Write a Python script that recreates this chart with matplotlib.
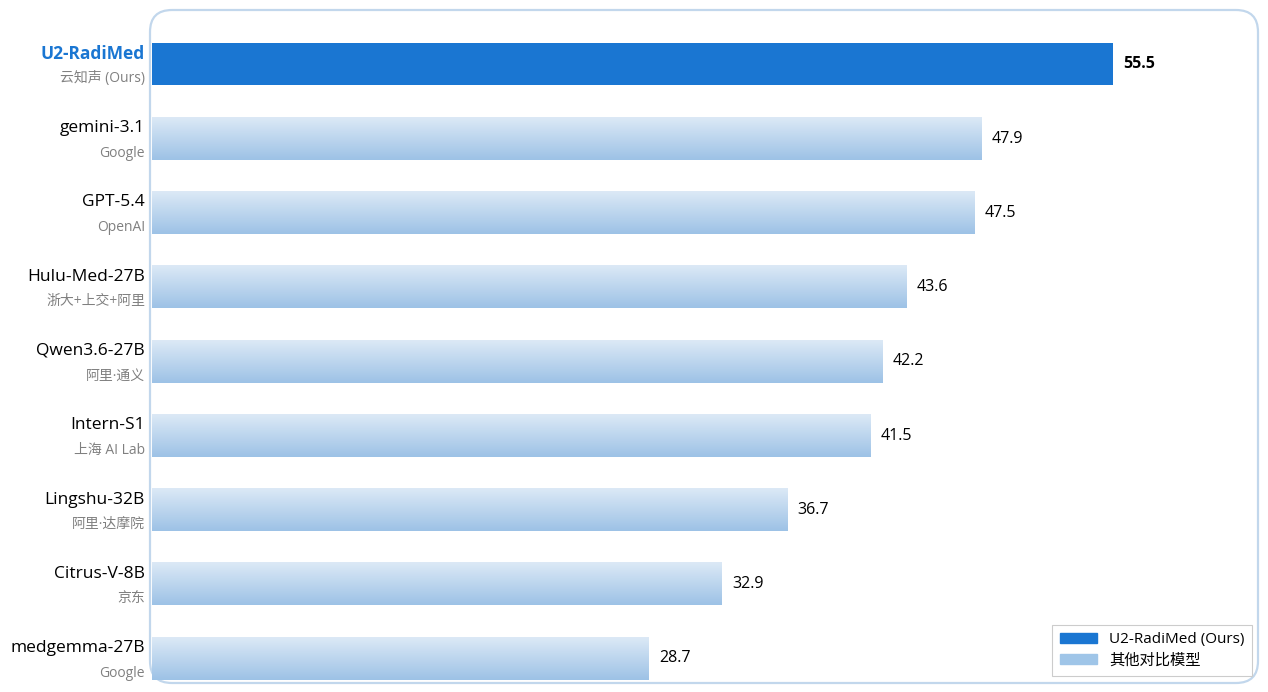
import numpy as np
import matplotlib.pyplot as plt
from matplotlib.patches import FancyBboxPatch, Patch

plt.rcParams['font.family'] = ['Open Sans', 'Noto Sans CJK SC', 'DejaVu Sans']

MODELS = ["U2-RadiMed", "gemini-3.1", "GPT-5.4", "Hulu-Med-27B", "Qwen3.6-27B",
          "Intern-S1", "Lingshu-32B", "Citrus-V-8B", "medgemma-27B"]
ORGS = ["云知声 (Ours)", "Google", "OpenAI", "浙大+上交+阿里", "阿里·通义",
        "上海 AI Lab", "阿里·达摩院", "京东", "Google"]
SCORES = [55.5, 47.9, 47.5, 43.6, 42.2, 41.5, 36.7, 32.9, 28.7]

OURS_COLOR = "#1a76d2"
TOP_COLOR = np.array([220, 233, 246]) / 255
BOT_COLOR = np.array([157, 194, 230]) / 255
FRAME_COLOR = "#c2d7ec"

W, H = 1268, 692
fig = plt.figure(figsize=(W / 100, H / 100), dpi=100)
ax = fig.add_axes([152 / W, 1 - 683 / H, (1258 - 152) / W, (683 - 10) / H])
ax.set_facecolor("none")
ax.set_zorder(1)

# rounded frame around the plot area
frame = FancyBboxPatch((1.50, 0.09), 11.08, 6.73,
                       boxstyle="round,pad=0,rounding_size=0.22",
                       transform=fig.dpi_scale_trans, facecolor="white",
                       edgecolor=FRAME_COLOR, linewidth=1.6, zorder=0)
fig.patches.append(frame)

y = np.arange(len(MODELS))
bars = ax.barh(y, SCORES, height=0.57, color="none", edgecolor="none")
bars[0].set_facecolor(OURS_COLOR)

# vertical gradient for the comparison bars
grad = np.linspace(0, 1, 64)[:, None, None]
grad_img = TOP_COLOR * (1 - grad) + BOT_COLOR * grad
for b in bars[1:]:
    x0, y0 = b.get_x(), b.get_y()
    ax.imshow(grad_img, extent=(x0, x0 + b.get_width(), y0 + b.get_height(), y0),
              aspect="auto", interpolation="bilinear", zorder=2)

ax.set_xlim(0, 63.9)
ax.set_ylim(8.33, -0.73)
ax.set_xticks([])
ax.set_yticks([])
for s in ax.spines.values():
    s.set_visible(False)

for i, (name, org, v) in enumerate(zip(MODELS, ORGS, SCORES)):
    ours = i == 0
    ax.annotate(name, (0, i), xytext=(-5, 7.5), textcoords="offset points",
                ha="right", va="center", fontsize=12.5,
                fontweight="bold" if ours else "normal",
                color=OURS_COLOR if ours else "black", annotation_clip=False)
    ax.annotate(org, (0, i), xytext=(-5, -10.5), textcoords="offset points",
                ha="right", va="center", fontsize=10, color="#808080",
                annotation_clip=False)
    ax.annotate(f"{v:.1f}", (v, i), xytext=(7.5, 0), textcoords="offset points",
                ha="left", va="center", fontsize=11.5,
                fontweight="bold" if ours else "normal", color="black")

handles = [Patch(color=OURS_COLOR, label="U2-RadiMed (Ours)"),
           Patch(color="#9fc5e8", label="其他对比模型")]
leg = ax.legend(handles=handles, loc="lower right", bbox_to_anchor=(1.0015, -0.001),
                fontsize=11, fancybox=False, framealpha=1, edgecolor="#cccccc",
                handlelength=2.4, handleheight=0.6, borderpad=0.5, labelspacing=0.4)
leg.get_frame().set_linewidth(0.8)

fig.savefig("out.png", dpi=100)
